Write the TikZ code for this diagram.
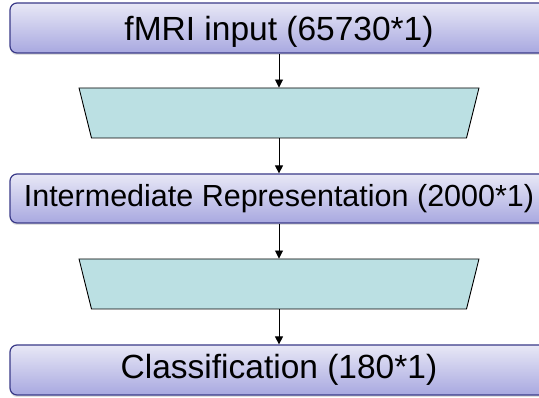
\documentclass[tikz,border=0pt]{standalone}
\usepackage{fontspec}
\setmainfont{Liberation Sans}
\usetikzlibrary{shapes.geometric,shadows,arrows.meta}

\definecolor{layertop}{HTML}{E8E8F6}
\definecolor{layerbot}{HTML}{A8A8E0}
\definecolor{layerline}{HTML}{3A3A88}
\definecolor{netfill}{HTML}{BBE0E3}

\begin{document}
\begin{tikzpicture}[x=1pt,y=1pt,
        layer/.style={draw=layerline, line width=1.2pt, rounded corners=7pt,
            top color=layertop, bottom color=layerbot,
            minimum width=538pt, minimum height=50pt, inner sep=0pt,
            drop shadow={shadow xshift=0pt, shadow yshift=-2pt, opacity=0.25},
            font=\fontsize{33.5}{38}\selectfont},
        % body is the short bottom edge, slanted sides add the rest on top
        net/.style={trapezium, shape border rotate=180, trapezium angle=76,
            draw=black, line width=0.9pt, fill=netfill,
            inner xsep=187.5pt, inner ysep=25pt},
        flow/.style={draw=black, line width=0.9pt, -{Triangle[width=8pt,length=8pt]}}]
    \useasboundingbox (0,0) rectangle (539,398);
    \clip (0,0) rectangle (539,398);

    \node[layer, text height=26pt, text depth=0pt] (input) at (279,370) {fMRI input (65730*1)};
    \node[net] (enc) at (279,285) {};
    \node[layer, minimum height=49pt, font=\fontsize{30.5}{35}\selectfont]
        (inter) at (279,199.5) {Intermediate Representation (2000*1)};
    \node[net] (dec) at (279,114) {};
    \node[layer] (cls) at (279,28) {Classification (180*1)};

    \draw[flow] (input) -- (enc);
    \draw[flow] (enc) -- (inter);
    \draw[flow] (inter) -- (dec);
    \draw[flow] (dec) -- (cls);
\end{tikzpicture}
\end{document}
